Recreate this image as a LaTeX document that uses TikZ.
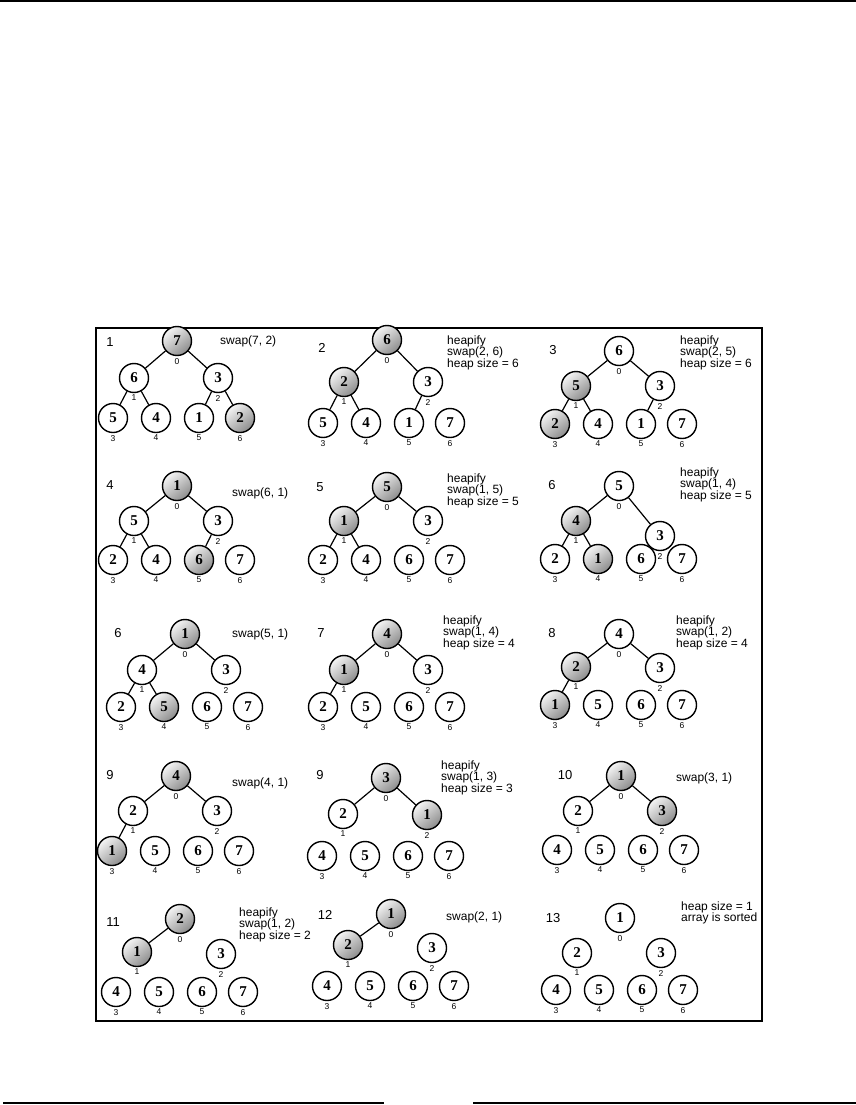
\documentclass[tikz,border=0pt]{standalone}
\usepackage{fontspec}
\setmainfont{Liberation Serif}
\newfontfamily\hsans{Liberation Sans}
\newcommand\heap[7]{%
 \foreach \v/\k [count=\i from 0] in {#7} {%
  \ifcase\i \def\px{0}\def\py{#3}\or \def\px{-43}\def\py{#4}\or \def\px{41}\def\py{#5}\or \def\px{-64}\def\py{#6}\or \def\px{-21}\def\py{#6}\or \def\px{22}\def\py{#6}\else \def\px{63}\def\py{#6}\fi
  \pgfmathsetmacro\xx{#2+\px}
  \node[kind=\k, label={[idx]below:\i}] (#1\i) at (\xx,\py) {\v};
 }}
\begin{document}
\begin{tikzpicture}[x=1pt,y=-1pt,
  hn/.style={circle,draw,line width=1.4pt,minimum size=29pt,inner sep=0pt,fill=white,
    font=\fontsize{15}{15}\selectfont\bfseries},
  hs/.style={hn,top color=black!4,bottom color=black!45,shading angle=40},
  kind/.code={\ifnum#1=1 \pgfkeysalso{/tikz/hs}\else\pgfkeysalso{/tikz/hn}\fi},
  idx/.style={font=\hsans\fontsize{8.5}{8.5}\selectfont,inner sep=0.5pt,label distance=1.2pt},
  edge/.style={line width=1.2pt},
  note/.style={font=\hsans\fontsize{12}{11.7}\selectfont,align=left,anchor=base west,inner sep=0pt},
  pnum/.style={font=\hsans\fontsize{13}{13}\selectfont,inner sep=0pt}]
\useasboundingbox (0,0) rectangle (856,1105);
\fill[white] (0,0) rectangle (856,1105);
% rules
\draw[line width=2pt] (0,1) -- (856,1);
\draw[line width=1.3pt] (3,1103) -- (384,1103);
\draw[line width=1.3pt] (473,1103) -- (856,1103);
\draw[line width=2pt] (96,328) rectangle (762,1021);

% row 1
\heap{a}{177}{341}{378}{378}{418}{7/1,6/0,3/0,5/0,4/0,1/0,2/1}
\draw[edge] (a0)--(a1) (a0)--(a2) (a1)--(a3) (a1)--(a4) (a2)--(a5) (a2)--(a6);
\node[pnum] (na) at (110,342) {1};
\node[note] (ta) at (220,344) {swap(7, 2)};

\heap{b}{387}{340}{382}{382}{423}{6/1,2/1,3/0,5/0,4/0,1/0,7/0}
\draw[edge] (b0)--(b1) (b0)--(b2) (b1)--(b3) (b1)--(b4) (b2)--(b5);
\node[pnum] (nb) at (322,348) {2};
\node[note] (tb) at (447,367.4) {heapify\\swap(2, 6)\\heap size = 6};

\heap{c}{619}{351}{386}{386}{424}{6/0,5/1,3/0,2/1,4/0,1/0,7/0}
\draw[edge] (c0)--(c1) (c0)--(c2) (c1)--(c3) (c1)--(c4) (c2)--(c5);
\node[pnum] (nc) at (553,350) {3};
\node[note] (tc) at (680,367.4) {heapify\\swap(2, 5)\\heap size = 6};

% row 2
\heap{d}{177}{486}{521}{521}{560}{1/1,5/0,3/0,2/0,4/0,6/1,7/0}
\draw[edge] (d0)--(d1) (d0)--(d2) (d1)--(d3) (d1)--(d4) (d2)--(d5);
\node[pnum] (nd) at (110,485) {4};
\node[note] (td) at (232,496) {swap(6, 1)};

\heap{e}{387}{487}{521}{521}{560}{5/1,1/1,3/0,2/0,4/0,6/0,7/0}
\draw[edge] (e0)--(e1) (e0)--(e2) (e1)--(e3) (e1)--(e4);
\node[pnum] (ne) at (320,487) {5};
\node[note] (te) at (447,505.4) {heapify\\swap(1, 5)\\heap size = 5};

\heap{f}{619}{486}{521}{536}{559}{5/0,4/1,3/0,2/0,1/1,6/0,7/0}
\draw[edge] (f0)--(f1) (f0)--(f2) (f1)--(f3) (f1)--(f4);
\node[pnum] (nf) at (552,485) {6};
\node[note] (tf) at (680,499.4) {heapify\\swap(1, 4)\\heap size = 5};

% row 3
\heap{g}{185}{634}{670}{670}{707}{1/1,4/0,3/0,2/0,5/1,6/0,7/0}
\draw[edge] (g0)--(g1) (g0)--(g2) (g1)--(g3) (g1)--(g4);
\node[pnum] (ng) at (118,633) {6};
\node[note] (tg) at (232,637) {swap(5, 1)};

\heap{h}{387}{634}{670}{670}{707}{4/1,1/1,3/0,2/0,5/0,6/0,7/0}
\draw[edge] (h0)--(h1) (h0)--(h2) (h1)--(h3);
\node[pnum] (nh) at (321,633) {7};
\node[note] (th) at (443,647.4) {heapify\\swap(1, 4)\\heap size = 4};

\heap{i}{619}{634}{667}{668}{705}{4/0,2/1,3/0,1/1,5/0,6/0,7/0}
\draw[edge] (i0)--(i1) (i0)--(i2) (i1)--(i3);
\node[pnum] (ni) at (552,633) {8};
\node[note] (ti) at (676,647.4) {heapify\\swap(1, 2)\\heap size = 4};

% row 4
\heap{j}{176}{776}{811}{811}{851}{4/1,2/0,3/0,1/1,5/0,6/0,7/0}
\draw[edge] (j0)--(j1) (j0)--(j2) (j1)--(j3);
\node[pnum] (nj) at (110,775) {9};
\node[note] (tj) at (232,786) {swap(4, 1)};

\heap{k}{386}{778}{814}{815}{856}{3/1,2/0,1/1,4/0,5/0,6/0,7/0}
\draw[edge] (k0)--(k1) (k0)--(k2);
\node[pnum] (nk) at (320,775) {9};
\node[note] (tk) at (441,792.4) {heapify\\swap(1, 3)\\heap size = 3};

\heap{l}{621}{776}{811}{811}{850}{1/1,2/0,3/1,4/0,5/0,6/0,7/0}
\draw[edge] (l0)--(l1) (l0)--(l2);
\node[pnum] (nl) at (565,775) {10};
\node[note] (tl) at (676,781) {swap(3, 1)};

% row 5
\heap{m}{180}{919}{952}{954}{992}{2/1,1/1,3/0,4/0,5/0,6/0,7/0}
\draw[edge] (m0)--(m1);
\node[pnum] (nm) at (113,922) {11};
\node[note] (tm) at (239,939.4) {heapify\\swap(1, 2)\\heap size = 2};

\heap{n}{391}{914}{945}{948}{986}{1/1,2/1,3/0,4/0,5/0,6/0,7/0}
\draw[edge] (n0)--(n1);
\node[pnum] (nn) at (325,915) {12};
\node[note] (tn) at (446,920) {swap(2, 1)};

\heap{o}{620}{918}{953}{953}{990}{1/0,2/0,3/0,4/0,5/0,6/0,7/0}
\node[pnum] (no) at (553,918) {13};
\node[note] (to) at (681,921.7) {heap size = 1\\array is sorted};
\end{tikzpicture}
\end{document}
